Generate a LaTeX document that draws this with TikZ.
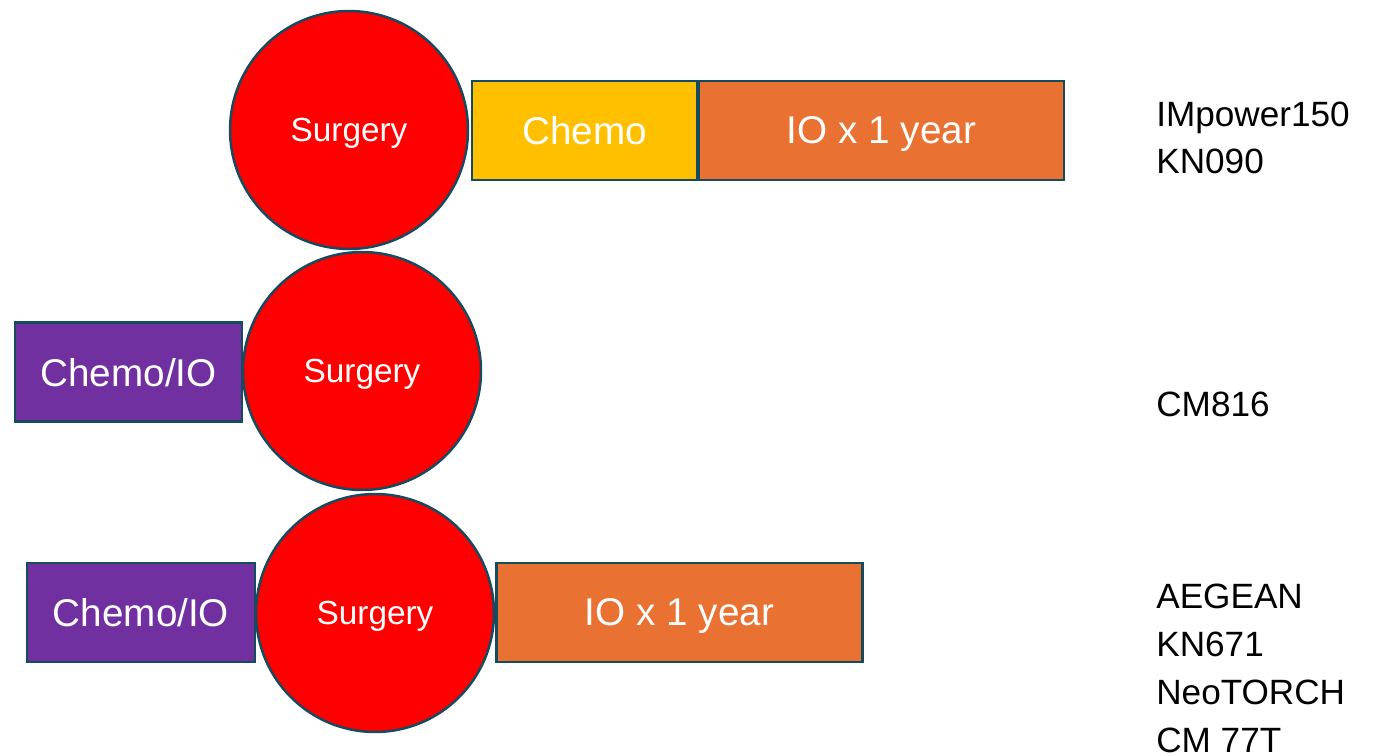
\documentclass[tikz,border=0pt]{standalone}
\usepackage{fontspec}
\setmainfont{Liberation Sans}
\usepackage{tikz}
\definecolor{rim}{HTML}{164A5E}
\definecolor{surgred}{HTML}{FF0000}
\definecolor{chemogold}{HTML}{FFC000}
\definecolor{ioorange}{HTML}{E97132}
\definecolor{neopurple}{HTML}{7030A0}
\tikzstyle{surgery}   = [circle,draw=rim,line width=1.4pt,fill=surgred,text=white,minimum size=4.76cm,inner sep=0pt,font=\fontsize{19}{22}\selectfont,text depth=0pt]
\tikzstyle{phase}     = [rectangle,draw=rim,line width=1.4pt,text=white,minimum height=1.98cm,inner sep=0pt,font=\fontsize{22}{26}\selectfont,text depth=0pt]
\tikzstyle{trial}     = [anchor=base west,inner sep=0pt,font=\fontsize{20}{24}\selectfont]

\begin{document}
\begin{tikzpicture}[x=0.02cm,y=-0.02cm]
          \useasboundingbox (0,0) rectangle (1378,756);
          % adjuvant only
          \node[surgery](s1)at(349, 130){Surgery};
          \node[phase,fill=chemogold,minimum width=4.5cm](c1)at(584.5, 130.5){Chemo};
          \node[phase,fill=ioorange,minimum width=7.3cm](i1)at(881.5, 130.5){IO x 1 year};
          % neoadjuvant only
          \node[phase,fill=neopurple,minimum width=4.54cm](n2)at(128.5, 372){Chemo/IO};
          \node[surgery](s2)at(362, 371){Surgery};
          % perioperative
          \node[phase,fill=neopurple,minimum width=4.56cm](n3)at(141, 612.5){Chemo/IO};
          \node[surgery](s3)at(375, 613){Surgery};
          \node[phase,fill=ioorange,minimum width=7.32cm](i3)at(679.5, 612.5){IO x 1 year};
          % trials
          \node[trial](t1)at(1156, 127){IMpower150};
          \node[trial](t2)at(1156, 174){KN090};
          \node[trial](t3)at(1156, 417){CM816};
          \node[trial](t4)at(1156, 608){AEGEAN};
          \node[trial](t5)at(1156, 656){KN671};
          \node[trial](t6)at(1156, 704){NeoTORCH};
          \node[trial](t7)at(1156, 752){CM 77T};
      \end{tikzpicture}
\end{document}
